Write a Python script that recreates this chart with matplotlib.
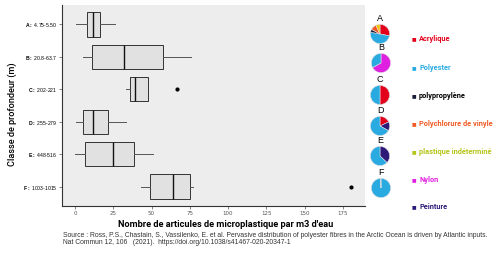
import matplotlib
matplotlib.use('Agg')
import matplotlib.pyplot as plt

# données
classes = ['A', 'B', 'C', 'D', 'E', 'F']
profondeurs = ['4.75-5.50', '20.8-63.7', '202-221', '255-279', '448-516', '1003-1015']
whislo = [0.5, 5.5, 33, 0.5, 0, 43]
q1 = [8, 11, 36, 5.5, 6.8, 48.8]
med = [12, 32, 39, 12, 25, 64.3]
q3 = [16.5, 57.7, 48, 21.8, 38.8, 75]
whishi = [26, 76, 48, 33, 51, 77]
outliers = [[], [], [66.7], [], [], [180.6]]
x_ticks = [0, 25, 50, 75, 100, 125, 150, 175]

polymeres = ['Acrylique', 'Polyester', 'polypropylène', 'Polychlorure de vinyle',
             'plastique indéterminé', 'Nylon', 'Peinture']
couleurs = ['#e2001a', '#29abe2', '#1a1a3a', '#f15a24', '#b5c418', '#e020e0', '#2e1a78']
couleurs_texte = ['#e2001a', '#29abe2', '#000000', '#f15a24', '#b5c418', '#e020e0', '#2e1a78']
# parts de chaque polymère par classe (sens horaire depuis midi)
pie_parts = [
    [('Acrylique', 28), ('Polyester', 50), ('polypropylène', 5), ('Polychlorure de vinyle', 10), ('jaune', 7)],
    [('Nylon', 67), ('Polyester', 33)],
    [('Acrylique', 50), ('Polyester', 50)],
    [('Acrylique', 18), ('Peinture', 15), ('Polyester', 67)],
    [('Peinture', 37), ('Polyester', 63)],
    [('Polyester', 99.5), ('Polyester', 0.5)],
]
col = dict(zip(polymeres, couleurs))
col['jaune'] = '#f5c400'

plt.rcParams['mathtext.fontset'] = 'custom'
plt.rcParams['mathtext.bf'] = 'Liberation Sans:bold'
plt.rcParams['mathtext.rm'] = 'Liberation Sans'

fig = plt.figure(figsize=(5, 2.56), dpi=100)
ax = fig.add_axes([62 / 500, 50 / 256, 303 / 500, 201 / 256])
ax.set_facecolor('#ededed')

stats = []
for i in range(len(classes)):
    stats.append(dict(whislo=whislo[i], q1=q1[i], med=med[i], q3=q3[i],
                      whishi=whishi[i], fliers=outliers[i]))
pos = list(range(1, len(classes) + 1))
ax.bxp(stats, positions=pos, vert=False, widths=0.75, patch_artist=True,
       showcaps=False,
       boxprops=dict(facecolor='#e1e1e1', edgecolor='#333333', linewidth=0.7),
       whiskerprops=dict(color='#555555', linewidth=0.7),
       medianprops=dict(color='#111111', linewidth=1.0),
       flierprops=dict(marker='o', markersize=2, markerfacecolor='black',
                       markeredgecolor='black'))

ax.set_ylim(6.6, 0.4)
ax.set_xlim(-8.5, 189.5)
ax.set_yticks(pos)
ax.set_yticklabels([r'$\mathbf{%s:}$ %s' % (c, p) for c, p in zip(classes, profondeurs)],
                   fontsize=3.7, family='Liberation Sans')
ax.set_xticks(x_ticks)
ax.set_xticklabels([str(t) for t in x_ticks], fontsize=4, color='#555555')
ax.tick_params(length=2, width=0.5, color='#555555', pad=1.5)
for s in ['top', 'right']:
    ax.spines[s].set_visible(False)
for s in ['left', 'bottom']:
    ax.spines[s].set_color('#333333')
    ax.spines[s].set_linewidth(0.8)

ax.set_xlabel("Nombre de articules de microplastique par m3 d'eau", family='Roboto',
              fontsize=6.6, fontweight='bold')
ax.xaxis.set_label_coords(0.541, -0.068)
ax.set_ylabel('Classe de profondeur (m)', family='Roboto', fontsize=6.6,
              fontweight='medium')
ax.yaxis.set_label_coords(-0.148, 0.458)

# camemberts
centres = [(380, 34), (381, 63), (380, 95), (380, 126), (380, 156), (381, 188)]
r = 12
for (cx, cy), parts, c in zip(centres, pie_parts, classes):
    pax = fig.add_axes([(cx - r) / 500, (256 - cy - r) / 256, 2 * r / 500, 2 * r / 256])
    pax.pie([p[1] for p in parts], colors=[col[p[0]] for p in parts],
            startangle=90, counterclock=False,
            wedgeprops=dict(edgecolor='#dddddd', linewidth=0.4))
    pax.set_aspect('auto')
    fig.text(cx / 500, 1 - (cy - r + 1) / 256, c, ha='center', va='bottom',
             fontsize=6.5, family='Liberation Sans')

# légende
leg_y = [39, 68, 96, 124, 152, 180, 207]
for nom, cl, ct, y in zip(polymeres, couleurs, couleurs_texte, leg_y):
    fig.text(414 / 500, 1 - y / 256, '■', color=cl, fontsize=3.5, ha='center',
             va='center', family='DejaVu Sans')
    fig.text(419 / 500, 1 - y / 256, nom, color=ct, fontsize=5.3, fontweight='bold',
             family='Roboto', va='center', ha='left')

fig.text(63 / 500, 1 - 239 / 256,
         'Source : Ross, P.S., Chastain, S., Vassilenko, E. et al. Pervasive distribution '
         'of polyester fibres in the Arctic Ocean is driven by Atlantic inputs.\n'
         'Nat Commun 12, 106   (2021).  https://doi.org/10.1038/s41467-020-20347-1',
         fontsize=4.9, family='Liberation Sans', color='#333333', va='center',
         linespacing=1.05)

fig.savefig('out.png', dpi=100, facecolor='white')
